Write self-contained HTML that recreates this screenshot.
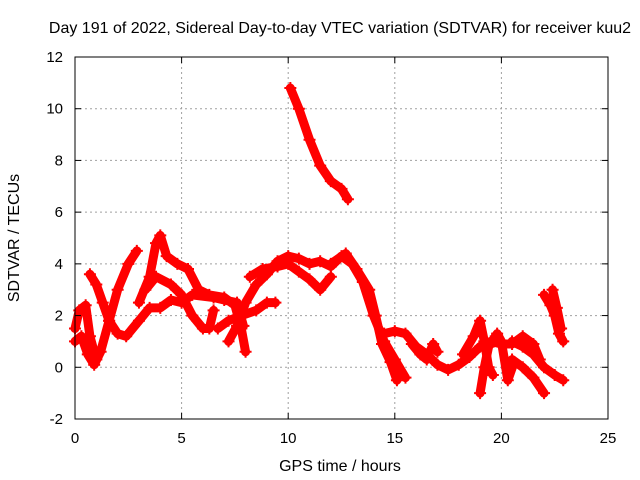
<!DOCTYPE html>
<html><head><meta charset="utf-8"><style>
body{margin:0;background:#fff}
svg{display:block;font-family:"Liberation Sans",sans-serif}
</style></head><body>
<svg id="c" width="640" height="480">
<text x="340" y="33" font-size="16" text-anchor="middle">Day 191 of 2022, Sidereal Day-to-day VTEC variation (SDTVAR) for receiver kuu2</text>
<text x="340" y="471" font-size="16" text-anchor="middle">GPS time / hours</text>
<text transform="translate(19,238) rotate(-90)" font-size="16" text-anchor="middle">SDTVAR / TECUs</text>
<g id="grid"></g><g id="marks"></g><g id="axes"></g>
</svg>
<script>
const xTicks=[0,5,10,15,20,25];
const yTicks=[-2,0,2,4,6,8,10,12];
const trackA=[[10.1,10.8],[10.5,10.0],[11.0,8.8],[11.5,7.8],[12.0,7.2],[12.5,6.9],[12.8,6.5]];
const trackB=[[0.7,3.6],[1.0,3.2],[1.3,2.5],[1.6,1.8],[2.0,1.3],[2.4,1.2],[3.0,1.8],[3.5,2.3],[4.0,2.3],[4.5,2.6],[5.0,2.5],[5.5,2.8],[6.5,2.7],[7.0,2.6],[7.6,2.5],[7.9,1.6]];
const trackC=[[0,1.0],[0.3,1.2],[0.6,0.5],[0.9,0.1],[1.2,0.6],[1.6,1.8],[2.0,3.0],[2.5,4.0],[2.9,4.5]];
const trackD=[[0,1.5],[0.2,2.2],[0.5,2.4],[0.7,1.2],[1.0,0.3]];
const trackE=[[3.0,2.5],[3.5,3.5],[3.8,4.8],[4.0,5.1],[4.3,4.3],[4.8,4.0],[5.3,3.8],[5.8,3.0],[6.3,2.8],[7.0,2.7],[7.5,2.4],[7.8,1.5],[8.0,0.6]];
const trackF=[[3.3,3.0],[3.8,3.5],[4.5,3.2],[5.0,2.8],[5.5,2.0],[6.0,1.5],[6.3,1.5],[6.5,2.2]];
const trackG=[[7.2,1.0],[7.6,1.6],[8.0,2.5],[8.5,3.2],[9.0,3.6],[9.5,4.1],[10.0,4.3],[10.5,4.2],[11.0,4.0],[11.5,4.1],[12.0,3.9],[12.5,4.3],[13.0,4.0],[13.5,3.3],[14.0,2.0],[14.5,1.0],[15.0,0.3],[15.5,-0.4]];
const trackH=[[6.7,1.5],[7.2,1.8],[7.8,2.0],[8.5,2.2],[9.0,2.5],[9.4,2.5]];
const trackI=[[8.2,3.5],[8.8,3.8],[9.5,3.9],[10.0,4.0],[10.5,3.7],[11.0,3.4],[11.5,3.0],[12.0,3.5]];
const trackJ=[[12.0,4.0],[12.7,4.4],[13.2,3.8],[13.8,3.0],[14.1,2.0],[14.4,0.9],[14.8,0.2],[15.1,-0.5]];
const trackK=[[14.5,1.3],[15.0,1.4],[15.5,1.3],[16.0,0.8],[16.5,0.5],[17.0,0.1],[17.5,-0.1],[18.0,0.1],[18.5,0.4],[19.0,0.8],[19.5,1.0],[20.0,0.9],[20.5,0.9],[21.0,1.2],[21.5,0.9],[21.8,0.3]];
const trackL=[[18.2,0.5],[18.7,1.2],[19.0,1.8],[19.2,1.0],[19.4,0.0],[19.6,-0.3]];
const trackM=[[19.0,-1.0],[19.2,0.0],[19.4,0.8],[19.8,1.3],[20.0,1.0],[20.3,-0.5],[20.6,0.2]];
const trackN=[[22.0,2.8],[22.3,2.4],[22.5,2.0],[22.7,1.3],[22.9,1.0]];
const trackN2=[[22.4,3.0],[22.6,2.3],[22.8,1.5]];
const trackO=[[20.5,0.3],[21.0,0.0],[21.5,-0.4],[22.0,-1.0]];
const trackO2=[[20.5,1.0],[21.0,0.8],[21.5,0.5],[22.0,0.0],[22.5,-0.3],[22.9,-0.5]];
const trackP=[[15.8,0.9],[16.2,0.5],[16.5,0.3],[16.8,0.9],[17.0,0.6]];
const tracks=[trackA,trackB,trackC,trackD,trackE,trackF,trackG,trackH,trackI,trackJ,trackK,trackL,trackM,trackN,trackN2,trackO,trackO2,trackP];

const L=75,R=608,T=57,B=419;
const xs=v=>L+(v-0)/(25-0)*(R-L);
const ys=v=>B-(v+2)/(14)*(B-T);
const NS="http://www.w3.org/2000/svg";
function mk(tag,attrs,parent){const e=document.createElementNS(NS,tag);for(const k in attrs)e.setAttribute(k,attrs[k]);parent.appendChild(e);return e;}
const grid=document.getElementById('grid'),axes=document.getElementById('axes'),marks=document.getElementById('marks');
xTicks.forEach(t=>{
  const x=xs(t);
  if(t>0&&t<25){const g=mk('line',{x1:x,x2:x,y1:T,y2:B,stroke:'#a0a0a0','stroke-dasharray':'2,3'},grid);
  
  }
  mk('line',{x1:x,x2:x,y1:B,y2:B-6,stroke:'#000'},axes);
  mk('line',{x1:x,x2:x,y1:T,y2:T+6,stroke:'#000'},axes);
  const tx=mk('text',{x:x,y:B+24,'font-size':15,'text-anchor':'middle'},axes);
  tx.textContent=t;
  
  
});
yTicks.forEach(t=>{
  const y=ys(t);
  if(t>-2&&t<12){const g=mk('line',{x1:L,x2:R,y1:y,y2:y,stroke:'#a0a0a0','stroke-dasharray':'2,3'},grid);
  
  }
  mk('line',{x1:L,x2:L+6,y1:y,y2:y,stroke:'#000'},axes);
  mk('line',{x1:R,x2:R-6,y1:y,y2:y,stroke:'#000'},axes);
  const tx=mk('text',{x:L-12,y:y+5,'font-size':15,'text-anchor':'end'},axes);
  tx.textContent=t;
  
  
});
const fr=mk('rect',{x:L,y:T,width:R-L,height:B-T,fill:'none',stroke:'#000'},axes);


tracks.forEach(tr=>{
  const pl=mk('polyline',{points:tr.map(p=>xs(p[0])+','+ys(p[1])).join(' '),fill:'none',stroke:'#ff0000','stroke-width':9,'stroke-linejoin':'round','stroke-linecap':'round'},marks);
  
  
  tr.forEach(p=>{
    const x=xs(p[0]),y=ys(p[1]);
    const m=mk('path',{d:`M${x-6},${y}H${x+6}M${x},${y-6}V${y+6}`,stroke:'#ff0000','stroke-width':2},marks);
    
    
  });
});
</script>
</body></html>
